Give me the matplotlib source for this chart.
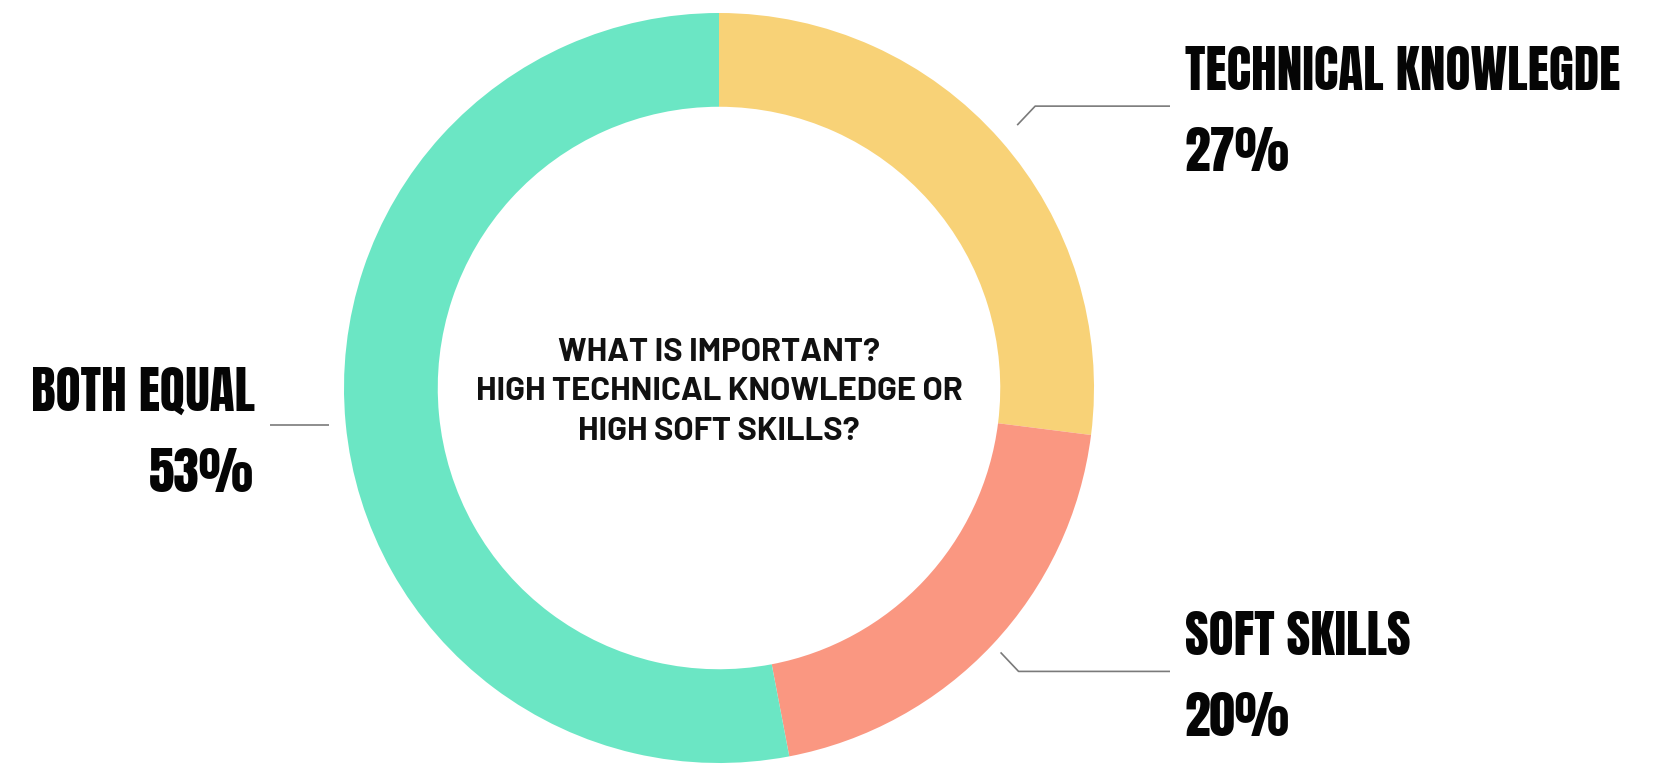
import numpy as np
import matplotlib
matplotlib.use("Agg")
import matplotlib.pyplot as plt

# survey answers, clockwise from 12 o'clock
labels = ["TECHNICAL KNOWLEGDE", "SOFT SKILLS", "BOTH EQUAL"]
shares = [27, 20, 53]
colors = ["#f8d277", "#fa9781", "#6be6c4"]
question = "WHAT IS IMPORTANT?\nHIGH TECHNICAL KNOWLEDGE OR\nHIGH SOFT SKILLS?"

W, H = 1657, 764
fig = plt.figure(figsize=(W / 100, H / 100), dpi=100)
ax = fig.add_axes([0, 0, 1, 1])

cx, cy, R = 719, 376, 375
wedges, _ = ax.pie(shares, colors=colors, startangle=90, counterclock=False,
                   center=(cx, cy), radius=R, frame=True,
                   wedgeprops=dict(width=R * 0.25, linewidth=0))
ax.set_xlim(0, W)
ax.set_ylim(0, H)
ax.set_aspect("equal")
ax.axis("off")

big = dict(fontsize=37, family=["Anton", "DejaVu Sans"], color="#050505", va="baseline")
line_kw = dict(color="#7a7a7a", lw=1.2, solid_capstyle="butt")
gaps = [1.06, 1.03, 1.045]  # how far outside the ring each leader starts

# leader lines start just outside the ring at each wedge's middle angle
for w, lab, val, g in zip(wedges, labels, shares, gaps):
    mid = np.deg2rad((w.theta1 + w.theta2) / 2)
    x0 = cx + g * R * np.cos(mid)
    y0 = cy + g * R * np.sin(mid)
    if np.cos(mid) > 0:
        sgn = np.sign(np.sin(mid))
        x1, y1 = x0 + 18, y0 + 19 * sgn
        ax.plot([x0, x1, 1170], [y0, y1, y1], **line_kw)
        ax.text(1185, y1 + 16, lab, ha="left", **big)
        ax.text(1185, y1 - 65, f"{val}%", ha="left", **big)
    else:
        ax.plot([x0, 270], [y0, y0], **line_kw)
        ax.text(255, y0 + 14, lab, ha="right", **big)
        ax.text(254, y0 - 67, f"{val}%", ha="right", **big)

ax.text(cx, cy - 4, question, ha="center", va="center", fontsize=23.5,
        fontweight="bold", family=["Barlow", "DejaVu Sans"], color="#111111",
        linespacing=1.45)

fig.savefig("out.png", dpi=100, facecolor="white")
